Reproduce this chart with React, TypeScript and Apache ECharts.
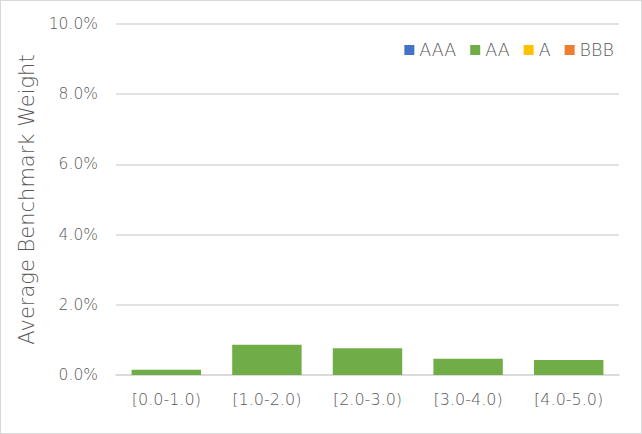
import React, { useEffect, useRef } from "react";
import * as echarts from "echarts";

const categories = ["[0.0-1.0)", "[1.0-2.0)", "[2.0-3.0)", "[3.0-4.0)", "[4.0-5.0)"];
const seriesNames = ["AAA", "AA", "A", "BBB"];
const seriesColors = ["#4472C4", "#70AD47", "#FFC000", "#ED7D31"];
const aaaValues = [0, 0, 0, 0, 0];
const aaValues = [0.15, 0.86, 0.76, 0.46, 0.43];
const aValues = [0, 0, 0, 0, 0];
const bbbValues = [0, 0, 0, 0, 0];
const yTicks = { min: 0, max: 10, interval: 2 };

const FONT = "'DejaVu Sans', sans-serif";
const W = 200;

export default function App() {
  const ref = useRef<HTMLDivElement>(null);
  useEffect(() => {
    if (!ref.current) return;
    const chart = echarts.init(ref.current, undefined, { renderer: "svg" });
    const data = [aaaValues, aaValues, aValues, bbbValues];
    chart.setOption({
      animation: false,
      textStyle: { fontFamily: FONT, color: "#595959", fontWeight: W },
      grid: { left: 115, right: 22, top: 23, bottom: 58 },
      legend: {
        right: 22,
        top: 35,
        itemWidth: 10,
        itemHeight: 10,
        itemGap: 14,
        icon: "rect",
        textStyle: { fontFamily: FONT, color: "#595959", fontSize: 17.5, fontWeight: W, padding: [0, 0, 0, 0] },
        data: seriesNames,
      },
      xAxis: {
        type: "category",
        data: categories,
        axisLine: { lineStyle: { color: "#d9d9d9", width: 1.5 } },
        axisTick: { show: false },
        axisLabel: { color: "#595959", fontSize: 16, fontFamily: FONT, fontWeight: W, margin: 16 },
      },
      yAxis: {
        type: "value",
        min: yTicks.min,
        max: yTicks.max,
        interval: yTicks.interval,
        name: "Average Benchmark Weight",
        nameLocation: "middle",
        nameGap: 69,
        nameTextStyle: { color: "#595959", fontSize: 21, fontFamily: FONT, fontWeight: W },
        axisLine: { show: false },
        axisTick: { show: false },
        splitLine: { lineStyle: { color: "#d9d9d9", width: 1.5 } },
        axisLabel: {
          color: "#595959",
          fontSize: 15.5,
          fontFamily: FONT,
          fontWeight: W,
          margin: 18,
          formatter: (v: number) => v.toFixed(1) + "%",
        },
      },
      series: seriesNames.map((name, i) => ({
        name,
        type: "bar",
        stack: "total",
        data: data[i],
        barCategoryGap: "31%",
        itemStyle: { color: seriesColors[i] },
      })),
    });
    return () => chart.dispose();
  }, []);
  return (
    <div
      ref={ref}
      style={{
        position: "fixed",
        left: 0,
        top: 0,
        width: 642,
        height: 434,
        boxSizing: "border-box",
        border: "1px solid #d9d9d9",
        background: "#fff",
      }}
    />
  );
}
